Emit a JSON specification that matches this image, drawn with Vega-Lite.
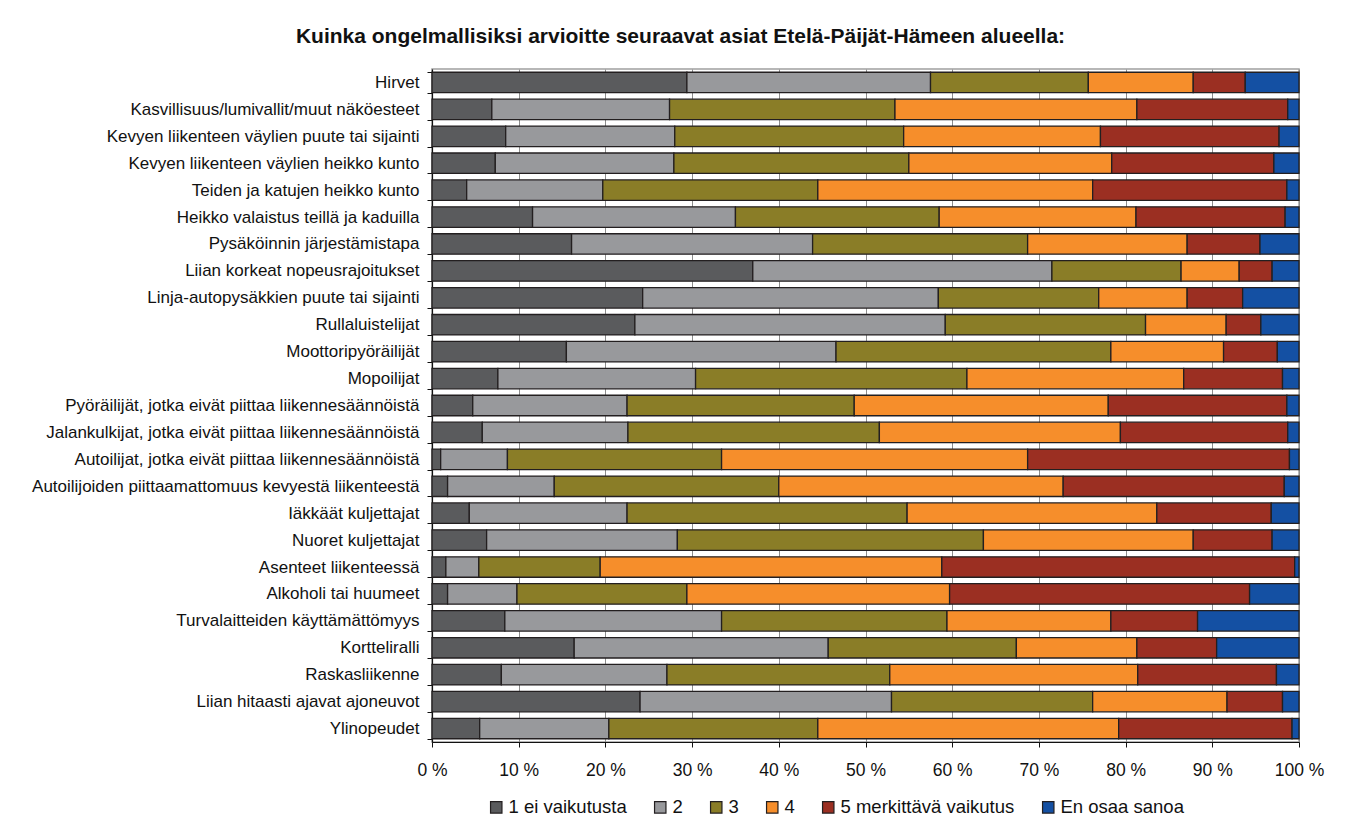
{
  "$schema": "https://vega.github.io/schema/vega-lite/v6.json",
  "autosize": {"type": "none"},
  "width": 867,
  "height": 673,
  "padding": {"left": 432, "top": 69, "right": 55, "bottom": 85},
  "background": "white",
  "title": {
    "text": "Kuinka ongelmallisiksi arvioitte seuraavat asiat Etelä-Päijät-Hämeen alueella:",
    "font": "Liberation Sans",
    "fontSize": 21,
    "fontWeight": "bold",
    "color": "#111",
    "anchor": "middle",
    "dx": -185,
    "offset": 13
  },
  "datasets": {
    "rows": [
      {"item": "Hirvet", "v1": 29.4, "v2": 28.1, "v3": 18.2, "v4": 12.1, "v5": 6.0, "v6": 6.2},
      {"item": "Kasvillisuus/lumivallit/muut näköesteet", "v1": 6.9, "v2": 20.5, "v3": 26.0, "v4": 27.9, "v5": 17.4, "v6": 1.3},
      {"item": "Kevyen liikenteen väylien puute tai sijainti", "v1": 8.5, "v2": 19.5, "v3": 26.4, "v4": 22.7, "v5": 20.6, "v6": 2.3},
      {"item": "Kevyen liikenteen väylien heikko kunto", "v1": 7.3, "v2": 20.6, "v3": 27.1, "v4": 23.4, "v5": 18.7, "v6": 2.9},
      {"item": "Teiden ja katujen heikko kunto", "v1": 4.0, "v2": 15.7, "v3": 24.8, "v4": 31.7, "v5": 22.4, "v6": 1.4},
      {"item": "Heikko valaistus teillä ja kaduilla", "v1": 11.6, "v2": 23.4, "v3": 23.5, "v4": 22.7, "v5": 17.2, "v6": 1.6},
      {"item": "Pysäköinnin järjestämistapa", "v1": 16.1, "v2": 27.8, "v3": 24.8, "v4": 18.4, "v5": 8.4, "v6": 4.5},
      {"item": "Liian korkeat nopeusrajoitukset", "v1": 37.0, "v2": 34.5, "v3": 14.9, "v4": 6.7, "v5": 3.8, "v6": 3.1},
      {"item": "Linja-autopysäkkien puute tai sijainti", "v1": 24.3, "v2": 34.1, "v3": 18.5, "v4": 10.2, "v5": 6.4, "v6": 6.5},
      {"item": "Rullaluistelijat", "v1": 23.4, "v2": 35.8, "v3": 23.1, "v4": 9.3, "v5": 4.0, "v6": 4.4},
      {"item": "Moottoripyöräilijät", "v1": 15.5, "v2": 31.1, "v3": 31.7, "v4": 13.0, "v5": 6.2, "v6": 2.5},
      {"item": "Mopoilijat", "v1": 7.6, "v2": 22.8, "v3": 31.3, "v4": 25.0, "v5": 11.4, "v6": 1.9},
      {"item": "Pyöräilijät, jotka eivät piittaa liikennesäännöistä", "v1": 4.7, "v2": 17.8, "v3": 26.2, "v4": 29.3, "v5": 20.6, "v6": 1.4},
      {"item": "Jalankulkijat, jotka eivät piittaa liikennesäännöistä", "v1": 5.8, "v2": 16.8, "v3": 29.0, "v4": 27.8, "v5": 19.3, "v6": 1.3},
      {"item": "Autoilijat, jotka eivät piittaa liikennesäännöistä", "v1": 1.0, "v2": 7.7, "v3": 24.7, "v4": 35.3, "v5": 30.2, "v6": 1.1},
      {"item": "Autoilijoiden piittaamattomuus kevyestä liikenteestä", "v1": 1.8, "v2": 12.3, "v3": 25.9, "v4": 32.8, "v5": 25.5, "v6": 1.7},
      {"item": "Iäkkäät kuljettajat", "v1": 4.3, "v2": 18.2, "v3": 32.3, "v4": 28.8, "v5": 13.2, "v6": 3.2},
      {"item": "Nuoret kuljettajat", "v1": 6.3, "v2": 22.0, "v3": 35.3, "v4": 24.2, "v5": 9.1, "v6": 3.1},
      {"item": "Asenteet liikenteessä", "v1": 1.6, "v2": 3.8, "v3": 14.0, "v4": 39.4, "v5": 40.7, "v6": 0.5},
      {"item": "Alkoholi tai huumeet", "v1": 1.8, "v2": 8.0, "v3": 19.6, "v4": 30.3, "v5": 34.6, "v6": 5.7},
      {"item": "Turvalaitteiden käyttämättömyys", "v1": 8.4, "v2": 25.0, "v3": 26.0, "v4": 18.9, "v5": 10.0, "v6": 11.7},
      {"item": "Kortteliralli", "v1": 16.4, "v2": 29.3, "v3": 21.7, "v4": 13.9, "v5": 9.2, "v6": 9.5},
      {"item": "Raskasliikenne", "v1": 8.0, "v2": 19.1, "v3": 25.7, "v4": 28.6, "v5": 16.0, "v6": 2.6},
      {"item": "Liian hitaasti ajavat ajoneuvot", "v1": 24.0, "v2": 29.0, "v3": 23.2, "v4": 15.5, "v5": 6.4, "v6": 1.9},
      {"item": "Ylinopeudet", "v1": 5.5, "v2": 14.9, "v3": 24.1, "v4": 34.7, "v5": 20.0, "v6": 0.8}
    ]
  },
  "data": {"name": "rows"},
  "transform": [
    {"fold": ["v1", "v2", "v3", "v4", "v5", "v6"], "as": ["key", "pct"]},
    {"lookup": "key", "from": {"data": {"values": [
      {"key": "v1", "level": "1 ei vaikutusta", "rank": 1},
      {"key": "v2", "level": "2", "rank": 2},
      {"key": "v3", "level": "3", "rank": 3},
      {"key": "v4", "level": "4", "rank": 4},
      {"key": "v5", "level": "5 merkittävä vaikutus", "rank": 5},
      {"key": "v6", "level": "En osaa sanoa", "rank": 6}
    ]}, "key": "key", "fields": ["level", "rank"]}}
  ],
  "mark": {"type": "bar", "stroke": "#231f20", "strokeWidth": 1.3},
  "encoding": {
    "y": {
      "field": "item",
      "type": "nominal",
      "sort": null,
      "scale": {"paddingInner": 0.24, "paddingOuter": 0.12},
      "axis": {
        "title": null,
        "labelFont": "Liberation Sans",
        "labelFontSize": 17,
        "labelColor": "#111",
        "labelPadding": 8,
        "labelLimit": 430,
        "tickBand": "extent",
        "tickSize": 5,
        "tickColor": "#111",
        "domainColor": "#111",
        "domainWidth": 1.2,
        "grid": false
      }
    },
    "x": {
      "field": "pct",
      "type": "quantitative",
      "stack": "normalize",
      "scale": {"domain": [0, 1], "nice": false},
      "axis": {
        "title": null,
        "values": [0, 0.1, 0.2, 0.3, 0.4, 0.5, 0.6, 0.7, 0.8, 0.9, 1],
        "labelExpr": "format(datum.value * 100, 'd') + ' %'",
        "labelFont": "Liberation Sans",
        "labelFontSize": 17.5,
        "labelColor": "#111",
        "labelPadding": 14,
        "labelFlush": false,
        "tickSize": 5,
        "tickColor": "#111",
        "domainColor": "#111",
        "domainWidth": 1.2,
        "grid": true,
        "gridColor": "#8c8c8c",
        "gridWidth": 1
      }
    },
    "color": {
      "field": "level",
      "type": "nominal",
      "scale": {
        "domain": ["1 ei vaikutusta", "2", "3", "4", "5 merkittävä vaikutus", "En osaa sanoa"],
        "range": ["#5a5b5d", "#98999c", "#8a7d27", "#f68e2b", "#9b2f22", "#1450a3"]
      },
      "legend": {
        "title": null,
        "orient": "none",
        "direction": "horizontal",
        "legendX": 55,
        "legendY": 729,
        "symbolType": "square",
        "symbolSize": 130,
        "symbolStrokeColor": "#231f20",
        "symbolStrokeWidth": 1.2,
        "labelFont": "Liberation Sans",
        "labelFontSize": 18.5,
        "labelLimit": 400,
        "labelColor": "#111",
        "labelOffset": 3,
        "columnPadding": 24
      }
    },
    "order": {"field": "rank", "type": "quantitative"}
  },
  "config": {
    "view": {"stroke": "#a0a0a0", "strokeWidth": 1.5}
  }
}
